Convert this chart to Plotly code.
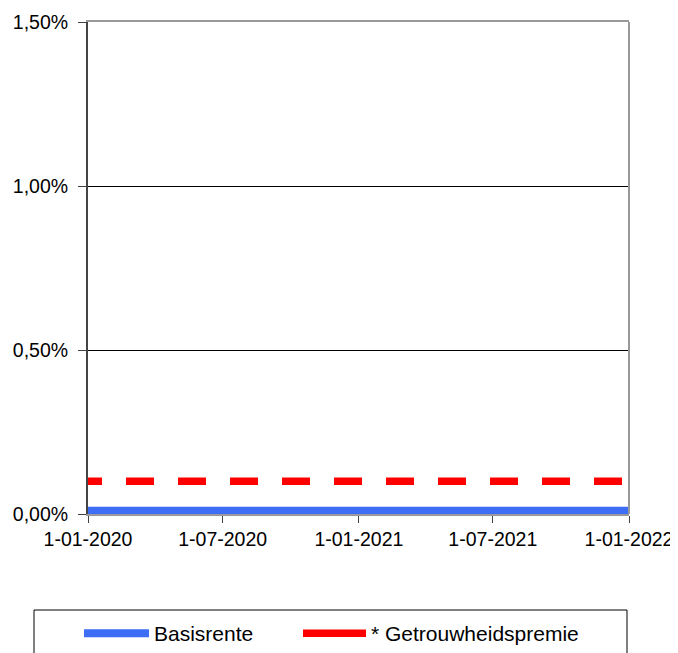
import plotly.graph_objects as go

dates = ["2020-01-01", "2020-04-01", "2020-07-01", "2020-10-01",
         "2021-01-01", "2021-04-01", "2021-07-01", "2021-10-01", "2022-01-01"]
basisrente = [0.0001] * len(dates)
getrouwheidspremie = [0.0010] * len(dates)

x_ticks = ["2020-01-01", "2020-07-01", "2021-01-01", "2021-07-01", "2022-01-01"]
y_ticks = [0, 0.005, 0.010, 0.015]

FONT = "Liberation Sans, Arial, sans-serif"
BLUE = "#3d6ef5"
RED = "#ff0000"

# page body has an 8px margin, so the figure is 8px smaller than the window
W, H = 670, 645
L, R, T, B = 80, 49, 14, 139
PW, PH = W - L - R, H - T - B


def px_x(x):
    return (x - L) / PW


def px_y(y):
    return (H - B - y) / PH


fig = go.Figure()
fig.add_trace(go.Scatter(x=dates, y=basisrente, mode="lines", name="Basisrente",
                         line=dict(color=BLUE, width=8), cliponaxis=False,
                         legend="legend"))
fig.add_trace(go.Scatter(x=dates, y=getrouwheidspremie, mode="lines",
                         name="* Getrouwheidspremie", showlegend=False,
                         legendgroup="gp",
                         line=dict(color=RED, width=7.5,
                                   dash="14px,24px,28px,24px,14px,0px")))
# legend entry (Excel shows a solid sample for the dashed series)
fig.add_trace(go.Scatter(x=[None], y=[None], mode="lines",
                         name="* Getrouwheidspremie", legendgroup="gp",
                         line=dict(color=RED, width=7.5), legend="legend2"))

leg_common = dict(orientation="h", xanchor="left", yanchor="top",
                  y=px_y(605), font=dict(size=21, family=FONT, color="#000"),
                  bgcolor="rgba(0,0,0,0)", borderwidth=0)

fig.update_layout(
    width=W, height=H,
    margin=dict(l=L, r=R, t=T, b=B, autoexpand=False),
    paper_bgcolor="white", plot_bgcolor="white",
    separators=",.",
    font=dict(family=FONT, size=19.5, color="#000"),
    showlegend=True,
    legend=dict(x=px_x(71), itemwidth=65, **leg_common),
    legend2=dict(x=px_x(290), itemwidth=63, **leg_common),
    xaxis=dict(type="date", range=["2020-01-01", "2022-01-01"],
               tickvals=x_ticks, tickformat="%-d-%m-%Y", automargin=False,
               ticks="outside", ticklen=7, tickcolor="#444", tickwidth=1,
               showgrid=False, zeroline=False,
               showline=True, linecolor="#999", linewidth=2, mirror=True),
    yaxis=dict(range=[0, 0.015], tickvals=y_ticks, tickformat=".2%",
               automargin=False,
               ticks="outside", ticklen=8, tickcolor="#444", tickwidth=1,
               showgrid=True, gridcolor="black", gridwidth=1, zeroline=False,
               showline=True, linecolor="#444", linewidth=2, mirror=False,
               ticklabelstandoff=6),
    shapes=[
        dict(type="line", xref="paper", yref="paper", x0=1, x1=1, y0=0, y1=1,
             line=dict(color="#999", width=2)),
        dict(type="rect", xref="paper", yref="paper",
             x0=px_x(26), x1=px_x(619),
             y0=px_y(660), y1=px_y(602),
             line=dict(color="black", width=1), layer="above"),
    ],
)

fig.write_html("out.html")
